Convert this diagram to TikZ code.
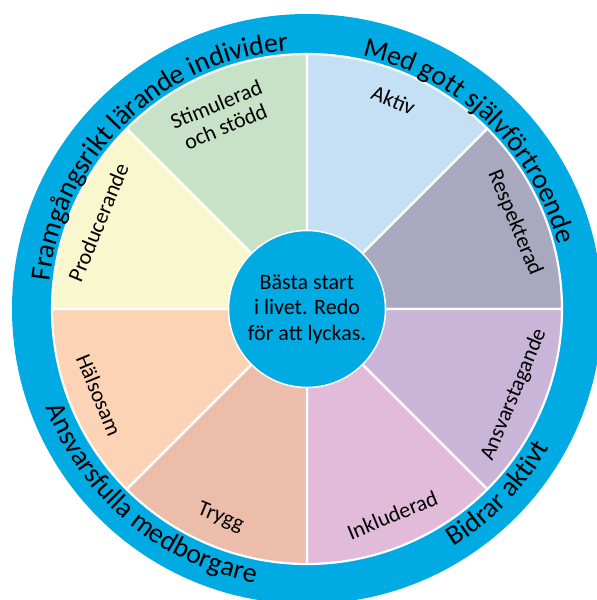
\documentclass[tikz,border=0pt]{standalone}
\usepackage{fontspec}
\setmainfont{Carlito}
\usetikzlibrary{decorations.text,positioning}

\definecolor{ringblue}{RGB}{0,170,226}
\definecolor{stimgreen}{RGB}{200,226,200}
\definecolor{aktivblue}{RGB}{197,224,245}
\definecolor{respgray}{RGB}{168,168,190}
\definecolor{ansvlilac}{RGB}{201,181,216}
\definecolor{inklpink}{RGB}{225,187,217}
\definecolor{tryggrose}{RGB}{236,189,171}
\definecolor{halspeach}{RGB}{252,211,181}
\definecolor{prodyellow}{RGB}{249,247,206}

\begin{document}
\begin{tikzpicture}[x=1pt,y=1pt,
    wedge/.style={draw=white,line width=2.2pt,line join=round},
    seglabel/.style={font=\fontsize{22}{24}\selectfont,align=center,inner sep=0pt},
    ringtext/.style={decorate,decoration={text along path,text align=center,
        text={|\fontsize{28}{30}\selectfont|#1}}}]
  \useasboundingbox (-307,-291) rectangle (290,309);
  \clip (-307,-291) rectangle (290,309);

  \fill[ringblue] (0,0) circle[radius=295pt];

  \filldraw[wedge,fill=stimgreen] (0,0) -- (135:255pt) arc[start angle=135,end angle=90,radius=255pt] -- cycle;
  \filldraw[wedge,fill=aktivblue] (0,0) -- (90:255pt) arc[start angle=90,end angle=45,radius=255pt] -- cycle;
  \filldraw[wedge,fill=respgray] (0,0) -- (45:255pt) arc[start angle=45,end angle=0,radius=255pt] -- cycle;
  \filldraw[wedge,fill=ansvlilac] (0,0) -- (0:255pt) arc[start angle=0,end angle=-45,radius=255pt] -- cycle;
  \filldraw[wedge,fill=inklpink] (0,0) -- (-45:255pt) arc[start angle=-45,end angle=-90,radius=255pt] -- cycle;
  \filldraw[wedge,fill=tryggrose] (0,0) -- (-90:255pt) arc[start angle=-90,end angle=-135,radius=255pt] -- cycle;
  \filldraw[wedge,fill=halspeach] (0,0) -- (-135:255pt) arc[start angle=-135,end angle=-180,radius=255pt] -- cycle;
  \filldraw[wedge,fill=prodyellow] (0,0) -- (180:255pt) arc[start angle=180,end angle=135,radius=255pt] -- cycle;

  \node[seglabel,rotate=22.5] (stimulerad) at (114:212pt) {Stimulerad\\och stödd};
  \node[seglabel,rotate=-22.5] (aktiv) at (67.5:226pt) {Aktiv};
  \node[seglabel,rotate=-67.5] (respekterad) at (22.5:225pt) {Respekterad};
  \node[seglabel,rotate=67.5] (ansvarstagande) at (-22.5:224pt) {Ansvarstagande};
  \node[seglabel,rotate=22.5] (inkluderad) at (-67.5:223pt) {Inkluderad};
  \node[seglabel,rotate=-22.5] (trygg) at (-112.5:226pt) {Trygg};
  \node[seglabel,rotate=-67.5] (halsosam) at (-157.5:225pt) {Hälsosam};
  \node[seglabel,rotate=67.5] (producerande) at (157.5:226pt) {Producerande};

  \node[circle,fill=ringblue,draw=white,line width=1.5pt,minimum size=157pt,
        font=\fontsize{22}{25.5}\selectfont,align=center,inner sep=0pt] (mid) at (0,0)
        {Bästa start\\i livet. Redo\\för att lyckas.};

  \path[ringtext={Framgångsrikt lärande individer}] (180:259pt) arc[start angle=180,end angle=88,radius=259pt];
  \path[ringtext={Med gott självförtroende}] (92:259pt) arc[start angle=92,end angle=0,radius=259pt];
  \path[ringtext={Bidrar aktivt}] (-90:279pt) arc[start angle=-90,end angle=2,radius=279pt];
  \path[ringtext={Ansvarsfulla medborgare}] (184:279pt) arc[start angle=184,end angle=276,radius=279pt];
\end{tikzpicture}
\end{document}
